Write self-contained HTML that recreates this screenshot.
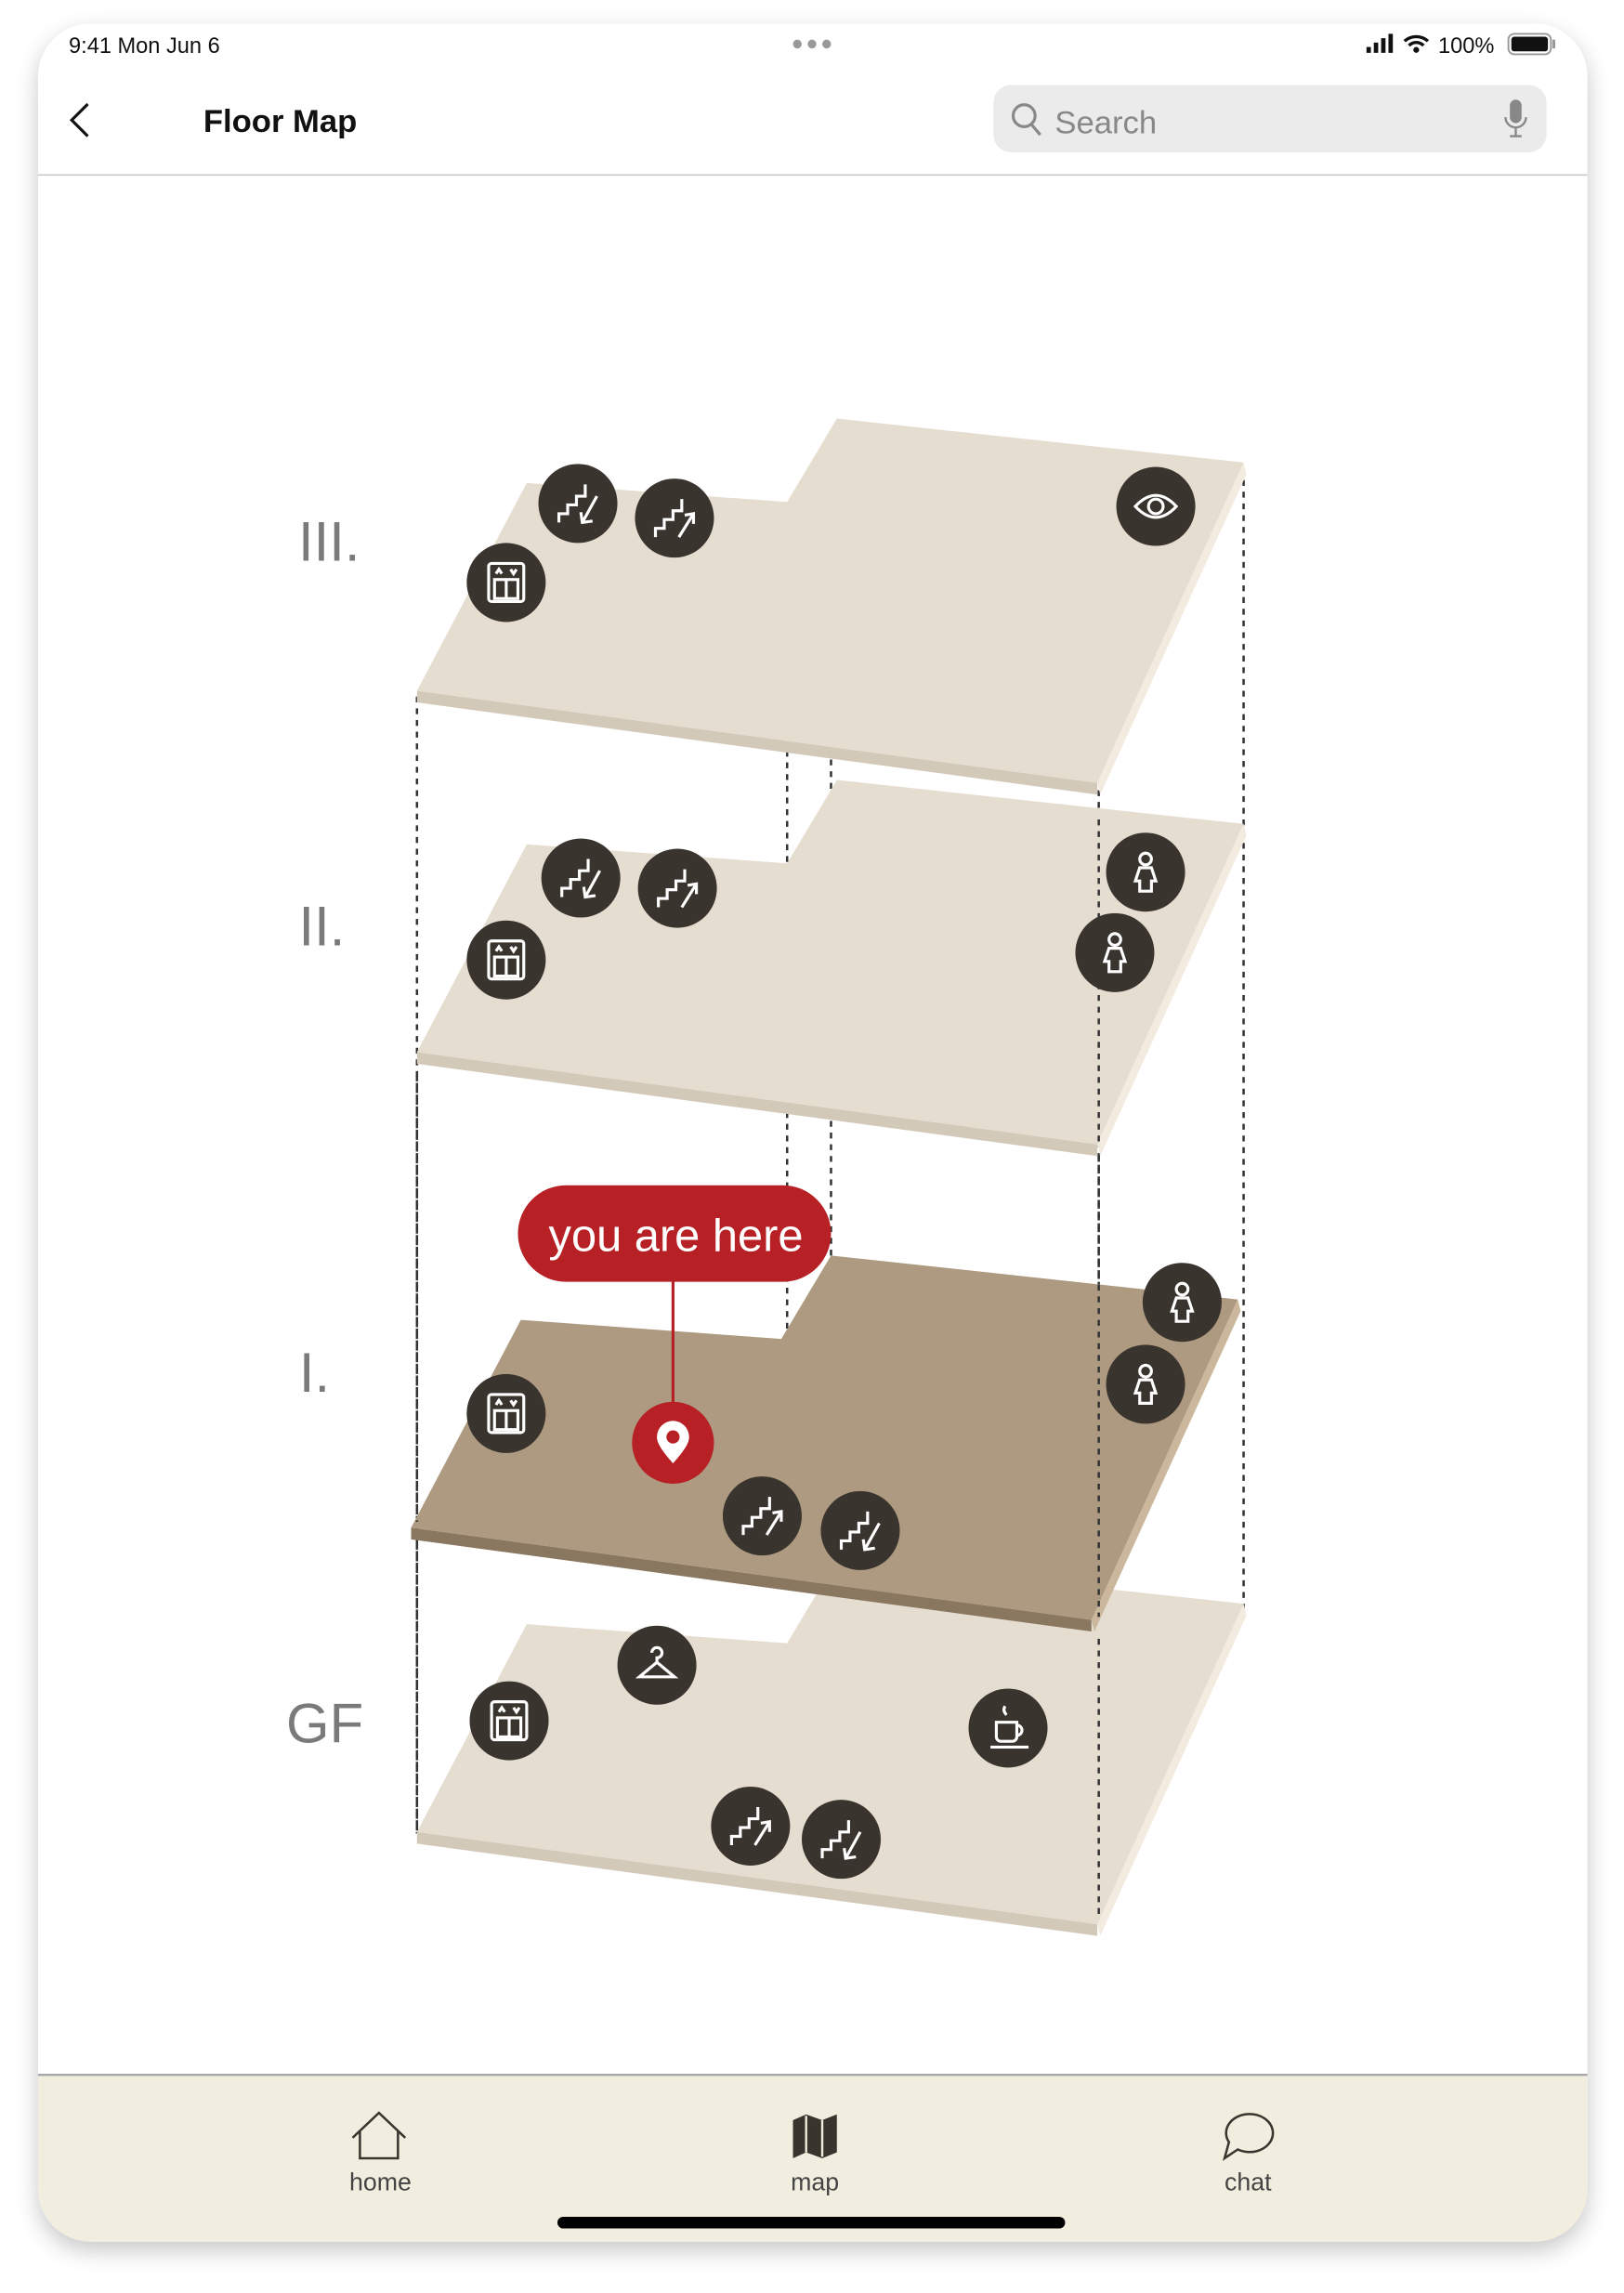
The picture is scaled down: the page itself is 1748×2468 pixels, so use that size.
<!DOCTYPE html>
<html><head><meta charset="utf-8"><style>
html,body{margin:0;padding:0;background:#fff;width:1748px;height:2468px;overflow:hidden}
svg{display:block}
text{font-family:"Liberation Sans",sans-serif}
</style></head><body>
<svg width="1748" height="2468" viewBox="0 0 1110 1567" xmlns="http://www.w3.org/2000/svg">
<defs>
<filter id="sh" x="-10%" y="-10%" width="120%" height="120%"><feGaussianBlur stdDeviation="8"/></filter>
<g id="fl">
<polygon points="285,472 750,535 750,543 285,480" fill="var(--b)"/>
<polygon points="750,535 850,316 852,324 752,543" fill="var(--s)"/>
<polygon points="360,330 538,343 572,286 850,316 750,535 285,472" fill="var(--t)"/>
</g>
<g id="dn"><circle r="27" fill="#3a342e"/><g fill="none" stroke="#fff" stroke-width="2"><polyline points="-13,13 -13,7 -7,7 -7,1 -1,1 -1,-5 5,-5 5,-13"/><line x1="13" y1="-5" x2="3" y2="13"/><polyline points="2,6 3,13 10,12"/></g></g>
<g id="up"><circle r="27" fill="#3a342e"/><g fill="none" stroke="#fff" stroke-width="2"><polyline points="-13,13 -13,7 -7,7 -7,1 -1,1 -1,-5 5,-5 5,-13"/><line x1="3" y1="13" x2="13" y2="-3"/><polyline points="7,-2 13,-3 13,4"/></g></g>
<g id="el"><circle r="27" fill="#3a342e"/><g fill="none" stroke="#fff" stroke-width="2"><rect x="-12" y="-13" width="24" height="26" rx="2"/><rect x="-8" y="-2" width="16" height="13"/><line x1="0" y1="-2" x2="0" y2="11"/><polyline points="-7,-6 -5,-9 -3,-6"/><polyline points="3,-9 5,-6 7,-9"/></g></g>
<g id="ps"><circle r="27" fill="#3a342e"/><g fill="none" stroke="#fff" stroke-width="2"><circle cx="0" cy="-9" r="4"/><path d="M-4,-3 L-7,6 L-4,6 L-4,13 L4,13 L4,6 L7,6 L4,-3 Z"/></g></g>
</defs>
<rect x="26" y="22" width="1059" height="1516" rx="36" fill="#000" opacity="0.22" filter="url(#sh)"/>
<rect x="26" y="16" width="1059" height="1516" rx="36" fill="#fff"/>
<path d="M26,1418 H1085 V1496 a36,36 0 0 1 -36,36 H62 a36,36 0 0 1 -36,-36 Z" fill="#f2eedf"/>
<line x1="26" y1="1418" x2="1085" y2="1418" stroke="#a8a8a8" stroke-width="1.5"/>
<line x1="26" y1="119.5" x2="1085" y2="119.5" stroke="#c8c8c8" stroke-width="1"/>
<!-- status -->
<text x="47" y="36" font-size="15" fill="#111">9:41  Mon Jun 6</text>
<circle cx="545" cy="30" r="3" fill="#999"/><circle cx="555" cy="30" r="3" fill="#999"/><circle cx="565" cy="30" r="3" fill="#999"/>
<g fill="#111"><rect x="934" y="32" width="3" height="4"/><rect x="939" y="29" width="3" height="7"/><rect x="944" y="26" width="3" height="10"/><rect x="949" y="23" width="3" height="13"/></g>
<path d="M960,28 a12,12 0 0 1 16,0 M963,31 a7,7 0 0 1 10,0" stroke="#111" stroke-width="2.2" fill="none"/><circle cx="968" cy="34" r="2" fill="#111"/>
<text x="983" y="36" font-size="15" fill="#111">100%</text>
<rect x="1031" y="23" width="29" height="14" rx="4" fill="none" stroke="#999" stroke-width="1.2"/><rect x="1033" y="25" width="25" height="10" rx="2" fill="#111"/><rect x="1061" y="27" width="2" height="6" fill="#999"/>
<!-- nav -->
<polyline points="60,71 49,82 60,93" fill="none" stroke="#111" stroke-width="2"/>
<text x="139" y="90" font-size="22" font-weight="bold" fill="#111">Floor Map</text>
<rect x="679" y="58" width="378" height="46" rx="12" fill="#ebebeb"/>
<circle cx="700" cy="79" r="7.5" fill="none" stroke="#888" stroke-width="2"/><line x1="705" y1="85" x2="711" y2="92" stroke="#888" stroke-width="2"/>
<text x="721" y="91" font-size="22" fill="#888">Search</text>
<rect x="1032" y="68" width="8" height="16" rx="4" fill="#888"/><path d="M1029,80 a7,7 0 0 0 14,0 M1036,87 v6 M1032,93 h8" stroke="#888" stroke-width="1.5" fill="none"/>
<!-- dashed -->
<g stroke="#333" stroke-width="1.6" stroke-dasharray="4 4" fill="none">
<line x1="285" y1="476" x2="285" y2="1253"/>
<line x1="850" y1="320" x2="850" y2="1100"/>
<line x1="751" y1="540" x2="751" y2="1312"/>
<line x1="538" y1="513" x2="538" y2="590"/>
<line x1="568" y1="519" x2="568" y2="542"/>
<line x1="538" y1="760" x2="538" y2="910"/>
<line x1="568" y1="766" x2="568" y2="860"/>
</g>
<!-- floors -->
<use href="#fl" transform="translate(0,780)" style="--t:#e6ddd1;--b:#d3c9b9;--s:#f3ebdf"/>
<use href="#fl" transform="translate(-4,572)" style="--t:#ad9a80;--b:#8a7760;--s:#cbb89c"/>
<use href="#fl" transform="translate(0,247)" style="--t:#e6ddd1;--b:#d3c9b9;--s:#f3ebdf"/>
<use href="#fl" style="--t:#e6ddd1;--b:#d3c9b9;--s:#f3ebdf"/>
<!-- redraw dashed segments visible over floors -->
<g stroke="#333" stroke-width="1.6" stroke-dasharray="4 4" fill="none">
<line x1="751" y1="560" x2="751" y2="780"/>
<line x1="751" y1="1120" x2="751" y2="1312"/>
<line x1="285" y1="735" x2="285" y2="1040"/>
<line x1="751" y1="790" x2="751" y2="1105"/>
<line x1="285" y1="1055" x2="285" y2="1253"/>
</g>
<!-- labels -->
<g font-size="38" fill="#7a7a7a" text-anchor="middle">
<text x="225" y="383">III.</text><text x="220" y="646">II.</text><text x="215" y="951">I.</text><text x="222" y="1191">GF</text>
</g>
<!-- icons III -->
<use href="#dn" x="395" y="344"/><use href="#up" x="461" y="354"/><use href="#el" x="346" y="398"/>
<circle cx="790" cy="346" r="27" fill="#3a342e"/><path d="M776,346 Q790,331 804,346 Q790,361 776,346 Z" fill="none" stroke="#fff" stroke-width="2"/><circle cx="790" cy="346" r="5" fill="none" stroke="#fff" stroke-width="2"/>
<!-- II -->
<use href="#dn" x="397" y="600"/><use href="#up" x="463" y="607"/><use href="#el" x="346" y="656"/>
<use href="#ps" x="783" y="596"/><use href="#ps" x="762" y="651"/>
<!-- I -->
<use href="#el" x="346" y="966"/><use href="#up" x="521" y="1036"/><use href="#dn" x="588" y="1046"/>
<use href="#ps" x="808" y="890"/><use href="#ps" x="783" y="946"/>
<line x1="460" y1="870" x2="460" y2="962" stroke="#b72025" stroke-width="2"/>
<circle cx="460" cy="986" r="28" fill="#b72025"/>
<path d="M460,1000 C452,991 449,986 449,982 a11,11 0 0 1 22,0 C471,986 468,991 460,1000 Z" fill="#fff"/><circle cx="460" cy="982" r="4.5" fill="#b72025"/>
<rect x="354" y="810" width="214" height="66" rx="33" fill="#b72025"/>
<text x="462" y="855" font-size="31" fill="#fff" text-anchor="middle">you are here</text>
<!-- GF -->
<use href="#el" x="348" y="1176"/><use href="#up" x="513" y="1248"/><use href="#dn" x="575" y="1257"/>
<circle cx="449" cy="1138" r="27" fill="#3a342e"/><path d="M449,1136 v-3 a3.5,3.5 0 1 0 -3.5,-3.5 M449,1136 L437,1146 H461 Z" fill="none" stroke="#fff" stroke-width="2"/>
<circle cx="689" cy="1181" r="27" fill="#3a342e"/><g fill="none" stroke="#fff" stroke-width="2"><path d="M681,1177 h14 v10 a3,3 0 0 1 -3,3 h-8 a3,3 0 0 1 -3,-3 Z M695,1179 a3.5,3.5 0 0 1 0,7"/><line x1="677" y1="1194" x2="703" y2="1194"/><path d="M687,1166 q-2,3 1,6"/></g>
<!-- tab bar -->
<path d="M241,1461 L259,1444 L277,1461 M246,1456 V1475 H272 V1456" fill="none" stroke="#3a342e" stroke-width="1.6"/>
<path d="M542,1449 L551,1445 L562,1449 L572,1445 V1471 L562,1475 L551,1471 L542,1475 Z" fill="#3a342e"/><path d="M551,1446 V1471 M562,1449 V1474" stroke="#f2eedf" stroke-width="1.5"/>
<path d="M846,1469 a16,13 0 1 0 -6,-5 L837,1475 Z" fill="none" stroke="#3a342e" stroke-width="1.6"/>
<g font-size="17" fill="#444" text-anchor="middle"><text x="260" y="1497">home</text><text x="557" y="1497">map</text><text x="853" y="1497">chat</text></g>
<rect x="381" y="1515" width="347" height="8" rx="4" fill="#000"/>
</svg>
</body></html>
